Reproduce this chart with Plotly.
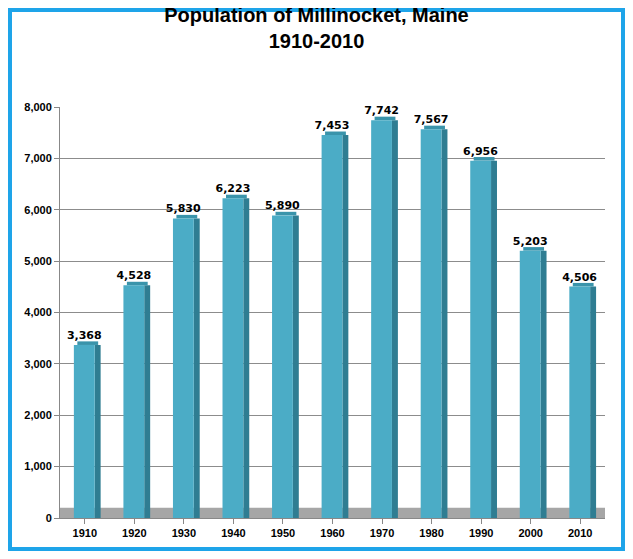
import plotly.graph_objects as go

years = ["1910", "1920", "1930", "1940", "1950", "1960", "1970", "1980", "1990", "2000", "2010"]
population = [3368, 4528, 5830, 6223, 5890, 7453, 7742, 7567, 6956, 5203, 4506]
y_ticks = [0, 1000, 2000, 3000, 4000, 5000, 6000, 7000, 8000]

# page body has an 8px margin, so draw a slightly smaller figure
W, H = 633 - 16, 559 - 16
ml, mr, mt, mb = 52, 20, 99, 33
pw, ph = W - ml - mr, H - mt - mb

xs = list(range(len(years)))

fig = go.Figure()
# side face (darker)
fig.add_trace(go.Bar(x=xs, y=population, width=0.12, offset=0.2, base=0,
                     marker=dict(color="#2f7d92", line=dict(width=0)), hoverinfo="skip"))
# top face (lighter)
fig.add_trace(go.Bar(x=xs, y=[70] * len(xs), base=population, width=0.42, offset=-0.15,
                     marker=dict(color="#3a94ab", line=dict(width=0)), hoverinfo="skip"))
# front face
fig.add_trace(go.Bar(x=xs, y=population, width=0.42, offset=-0.22,
                     marker=dict(color="#4bacc6", line=dict(width=0)),
                     text=[f"<b>{v:,}</b>" for v in population], textposition="outside",
                     textfont=dict(size=11, color="black", family="DejaVu Sans"),
                     cliponaxis=False))

fig.update_layout(
    width=W, height=H, barmode="overlay", showlegend=False,
    uniformtext=dict(minsize=11, mode="show"),
    paper_bgcolor="white", plot_bgcolor="white",
    margin=dict(l=ml, r=mr, t=mt, b=mb),
    font=dict(family="Liberation Sans, Arial", color="black"),
    title=dict(text="<b>Population of Millinocket, Maine<br>1910-2010</b>",
               x=0.5, xanchor="center", y=0.975, yanchor="top",
               font=dict(size=20, color="black")),
    xaxis=dict(range=[-0.5, 10.5], tickvals=xs, ticktext=[f"<b>{y}</b>" for y in years],
               tickfont=dict(size=11), showgrid=False, zeroline=False,
               showline=True, linecolor="#888", ticks="outside", ticklen=5, tickcolor="#888"),
    yaxis=dict(range=[0, 8000], tickvals=y_ticks, ticktext=[f"<b>{v:,}</b>" for v in y_ticks],
               tickfont=dict(size=11), gridcolor="#8c8c8c", zeroline=False,
               showline=True, linecolor="#888", ticks="outside", ticklen=5, tickcolor="#888"),
    shapes=[
        dict(type="rect", xref="x", yref="y", x0=-0.5, x1=10.5, y0=0, y1=200,
             fillcolor="#a6a6a6", line=dict(width=0), layer="below"),
        dict(type="rect", xref="paper", yref="paper",
             x0=(2 - ml) / pw, x1=1 + (mr - 2) / pw,
             y0=-(mb - 2) / ph, y1=1 + (mt - 2) / ph,
             line=dict(color="#1ea4e9", width=4), fillcolor="rgba(0,0,0,0)"),
    ],
)

fig.write_html("out.html")
